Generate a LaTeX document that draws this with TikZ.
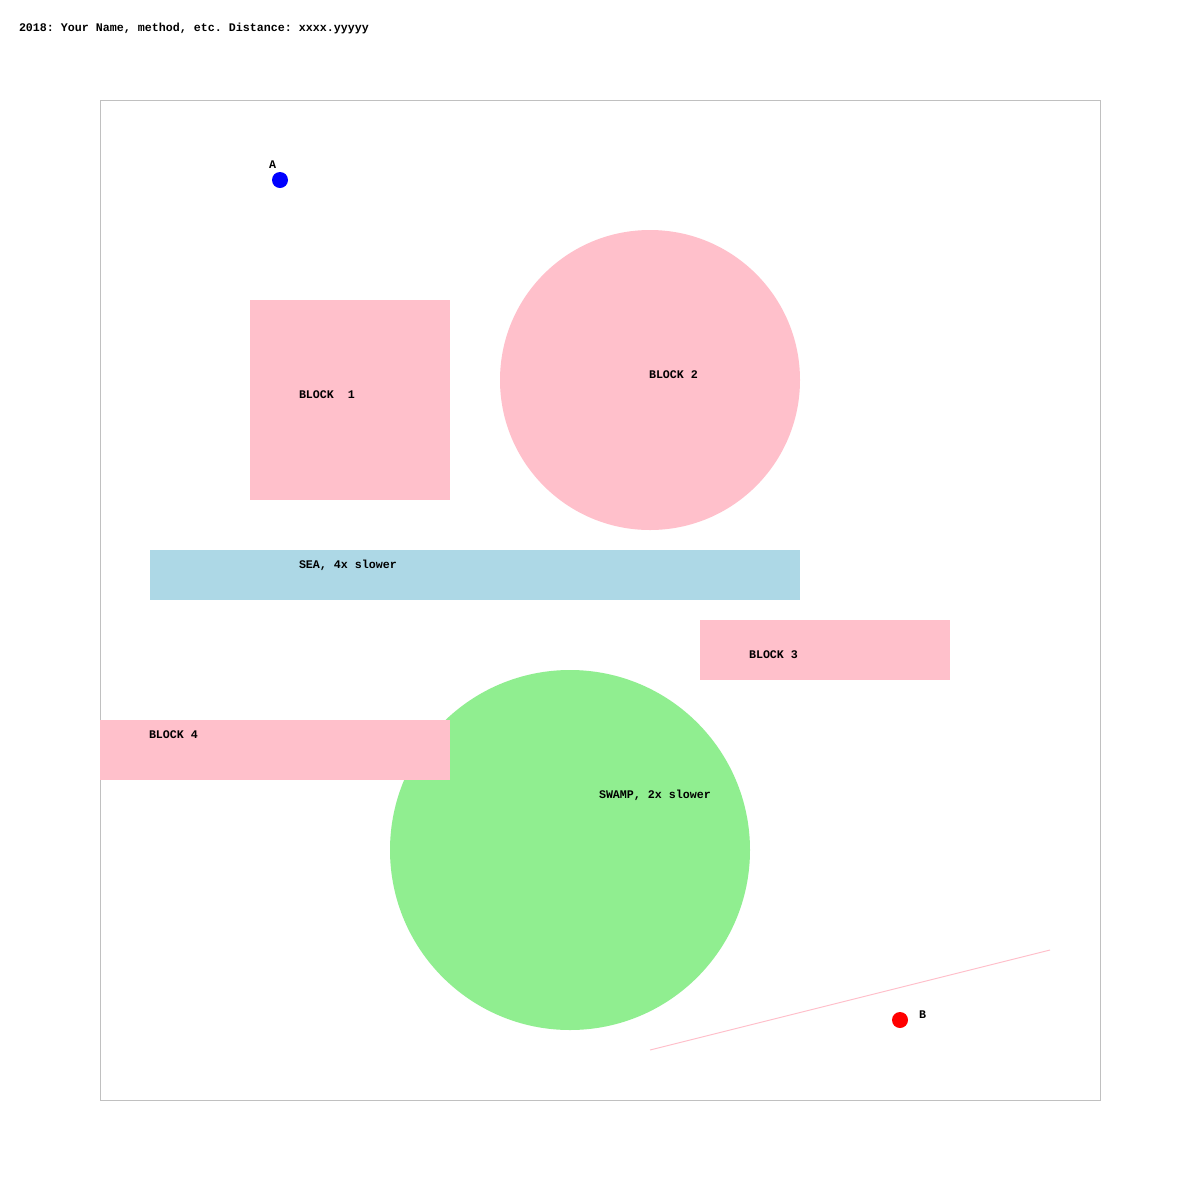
\documentclass[tikz,border=0pt]{standalone}
\usepackage{fontspec}
\setmonofont{Liberation Mono}
\definecolor{blockpink}{HTML}{FFC0CB}
\definecolor{seablue}{HTML}{ADD8E6}
\definecolor{swampgreen}{HTML}{90EE90}
\definecolor{framegray}{HTML}{C0C0C0}
\begin{document}
\begin{tikzpicture}[x=0.5pt,y=-0.5pt,
  lbl/.style={anchor=base west,inner sep=0pt,outer sep=0pt,
    font=\ttfamily\bfseries\fontsize{5.83}{7}\selectfont},
  block/.style={fill=blockpink,draw=none},
  dot/.style={circle,minimum size=8pt,inner sep=0pt,draw=none}]
\useasboundingbox[fill=white] (0,0) rectangle (1200,1200);
% title line
\node[lbl] (title) at (19,31) {2018: Your Name, method, etc. Distance: xxxx.yyyyy};
% playing field
\draw[framegray,line width=0.5pt] (100,100) rectangle (1100,1100);
% obstacles
\fill[block] (250,300) rectangle (450,500);
\fill[block] (650,380) circle[radius=150];
\fill[seablue] (150,550) rectangle (800,600);
\fill[block] (700,620) rectangle (950,680);
\fill[swampgreen] (570,850) circle[radius=180];
\fill[block] (100,720) rectangle (450,780);
% wall segment
\coordinate (w1) at (650,1050);
\coordinate (w2) at (1050,950);
\draw[blockpink,line width=0.5pt] (w1) -- (w2);
% start and goal
\node[dot,fill=blue] (A) at (280,180) {};
\node[dot,fill=red] (B) at (900,1020) {};
% labels
\node[lbl] (la) at (269,168) {A};
\node[lbl] (lb) at (919,1018) {B};
\node[lbl] (l1) at (299,398) {BLOCK~~1};
\node[lbl] (l2) at (649,378) {BLOCK 2};
\node[lbl] (ls) at (299,568) {SEA, 4x slower};
\node[lbl] (l3) at (749,658) {BLOCK 3};
\node[lbl] (l4) at (149,738) {BLOCK 4};
\node[lbl] (lw) at (599,798) {SWAMP, 2x slower};
\end{tikzpicture}
\end{document}
